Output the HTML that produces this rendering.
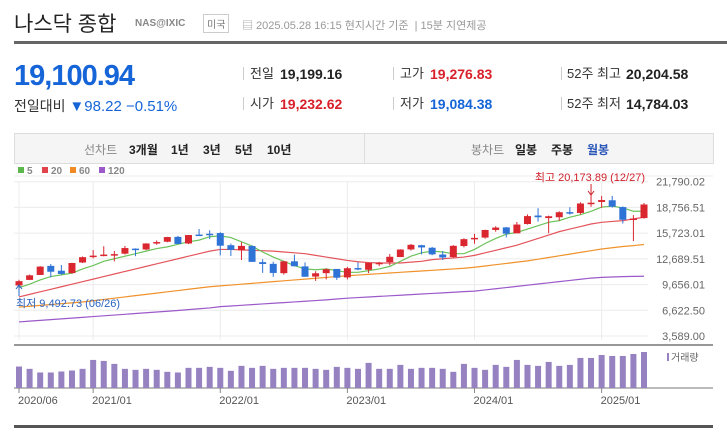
<!DOCTYPE html>
<html><head><meta charset="utf-8">
<style>
body{margin:0;width:727px;height:437px;background:#fff;font-family:"Liberation Sans","Noto Sans CJK KR",sans-serif;overflow:hidden;position:relative}
.a{position:absolute;white-space:nowrap}
.lbl{font-size:13px;color:#333;line-height:16px}
.val{font-size:14px;font-weight:bold;color:#222;line-height:16px}
.sep{position:absolute;width:1px;height:13px;background:#ccc}
.tab{font-size:12px;color:#222;font-weight:bold}
</style></head><body>
<div class="a" style="left:14px;top:8px;font-size:21px;color:#222">나스닥 종합</div>
<div class="a" style="left:135px;top:18px;font-size:10px;font-weight:bold;color:#888">NAS@IXIC</div>
<div class="a" style="left:203px;top:14px;font-size:10px;color:#777;border:1px solid #ccc;padding:1px 3px">미국</div>
<div class="a" style="left:242px;top:17px;font-size:11px;color:#999">▤ 2025.05.28 16:15 현지시간 기준 &nbsp;|&nbsp;15분 지연제공</div>
<div class="a" style="left:14px;top:41px;width:713px;height:3px;background:#666"></div>

<div class="a" style="left:14px;top:60px;font-size:29px;font-weight:bold;color:#1565d8;letter-spacing:-1px">19,100.94</div>
<div class="a" style="left:14px;top:96px;font-size:14px;color:#333">전일대비 <span style="color:#1565d8;font-size:15px">▼98.22 −0.51%</span></div>

<div class="sep" style="left:243px;top:67px"></div><div class="a lbl" style="left:250px;top:66px">전일</div><div class="a val" style="left:280px;top:66px">19,199.16</div>
<div class="sep" style="left:243px;top:97px"></div><div class="a lbl" style="left:250px;top:96px">시가</div><div class="a val" style="left:280px;top:96px;color:#d8202a">19,232.62</div>
<div class="sep" style="left:393px;top:67px"></div><div class="a lbl" style="left:400px;top:66px">고가</div><div class="a val" style="left:430px;top:66px;color:#d8202a">19,276.83</div>
<div class="sep" style="left:393px;top:97px"></div><div class="a lbl" style="left:400px;top:96px">저가</div><div class="a val" style="left:430px;top:96px;color:#1565d8">19,084.38</div>
<div class="sep" style="left:561px;top:67px"></div><div class="a lbl" style="left:567px;top:66px">52주 최고</div><div class="a val" style="left:626px;top:66px">20,204.58</div>
<div class="sep" style="left:561px;top:97px"></div><div class="a lbl" style="left:567px;top:96px">52주 최저</div><div class="a val" style="left:626px;top:96px">14,784.03</div>

<div class="a" style="left:14px;top:133px;width:698px;height:29px;background:#f5f5f5;border:1px solid #ddd"></div>
<div class="a" style="left:364px;top:134px;width:1px;height:29px;background:#ddd"></div>
<div class="a" style="left:84px;top:141px;font-size:12px;color:#888">선차트</div>
<div class="a tab" style="left:129px;top:141px">3개월</div>
<div class="a tab" style="left:171px;top:141px">1년</div>
<div class="a tab" style="left:203px;top:141px">3년</div>
<div class="a tab" style="left:235px;top:141px">5년</div>
<div class="a tab" style="left:267px;top:141px">10년</div>
<div class="a" style="left:471px;top:141px;font-size:12px;color:#888">봉차트</div>
<div class="a tab" style="left:515px;top:141px">일봉</div>
<div class="a tab" style="left:551px;top:141px">주봉</div>
<div class="a tab" style="left:587px;top:141px;color:#2a56b8">월봉</div>
<div class="a" style="left:14px;top:425px;width:699px;height:3px;background:#555"></div>

<svg id="chart" class="a" style="left:0;top:0" width="727" height="437"></svg>
<script>
const months=["2020/06","2020/07","2020/08","2020/09","2020/10","2020/11","2020/12","2021/01","2021/02","2021/03","2021/04","2021/05","2021/06","2021/07","2021/08","2021/09","2021/10","2021/11","2021/12","2022/01","2022/02","2022/03","2022/04","2022/05","2022/06","2022/07","2022/08","2022/09","2022/10","2022/11","2022/12","2023/01","2023/02","2023/03","2023/04","2023/05","2023/06","2023/07","2023/08","2023/09","2023/10","2023/11","2023/12","2024/01","2024/02","2024/03","2024/04","2024/05","2024/06","2024/07","2024/08","2024/09","2024/10","2024/11","2024/12","2025/01","2025/02","2025/03","2025/04","2025/05"];
const opens=[9552,10207,10789,11860,11290,11010,12259,12958,13091,13207,13299,13895,13792,14520,14707,15283,14500,15552,15650,15732,14300,13700,14200,12300,12100,11000,12400,11800,10600,11000,11500,10500,11600,11400,12200,12300,12900,13800,14300,14000,13200,12900,14200,15000,15200,16100,16400,15700,16800,17800,17500,17600,18200,18100,19300,19400,19600,18800,17300,17500];
const closes=[10058,10745,11775,11168,10911,12199,12888,13070,13192,13247,13962,13748,14504,14673,15259,14448,15498,15538,15645,14240,13751,14220,12335,12081,11028,12391,11816,10576,10988,11468,10466,11584,11456,12222,12226,12935,13788,14346,14035,13219,12851,14226,15011,15164,16091,16379,15658,16735,17733,17599,17714,18189,18095,19218,19310,19627,18847,17299,17446,19100];
const highs=[10221,10839,11829,12074,11965,12225,12973,13728,14175,13620,14211,13933,14536,14863,15288,15403,15505,16212,16057,15832,14489,14647,14288,12644,12346,12440,13182,12270,11231,11571,11474,11744,12269,12250,12336,13252,13828,14447,14351,14103,13598,14308,15111,15636,16134,16539,16452,17032,17936,18671,17786,18298,18785,19366,20205,20118,20110,18873,17845,19277];
const lows=[9403,10180,10779,10519,10822,10942,12196,12743,12985,12397,13191,13002,13714,14350,14650,14435,14432,15516,15020,13094,13021,12555,12333,11035,10565,10833,11808,10575,10089,10262,10207,10265,11345,11015,11828,11925,12999,13667,13215,13116,12544,12848,14045,14477,15061,15886,15222,15723,16735,17086,15708,17175,17899,17939,18831,18719,18726,16854,14784,17434];
const ma5=[9300,9700,10200,10600,10800,11000,11500,11900,12400,12700,13000,13300,13600,13900,14100,14400,14700,14900,15300,15400,15200,14700,14200,13500,12900,12400,11900,11500,11400,11500,11300,11100,11100,11300,11500,11800,12400,13000,13400,13600,13500,13300,13300,13800,14500,15100,15600,15800,16200,16600,17000,17200,17600,17900,18300,18800,18900,18700,18300,18300];
const ma20=[8200,8500,8800,9100,9400,9700,10000,10300,10600,10900,11200,11500,11800,12100,12400,12700,13000,13300,13600,13800,13800,13750,13700,13650,13600,13500,13400,13300,13100,12900,12700,12500,12350,12250,12200,12200,12200,12300,12400,12600,12700,12800,12900,13100,13400,13700,14000,14300,14700,15100,15500,15900,16200,16500,16800,17000,17100,17200,17400,17600];
const ma60=[7000,7100,7200,7300,7400,7500,7600,7750,7900,8050,8200,8350,8500,8650,8800,8950,9100,9250,9400,9500,9600,9700,9800,9900,10000,10100,10200,10300,10400,10500,10600,10700,10780,10860,10940,11020,11100,11180,11260,11340,11420,11500,11580,11700,11850,12000,12150,12300,12450,12650,12850,13050,13250,13450,13650,13850,14000,14150,14250,14380];
const ma120=[5250,5340,5430,5520,5610,5700,5790,5880,5970,6060,6150,6240,6330,6420,6510,6600,6700,6800,6900,7050,7130,7210,7290,7370,7450,7530,7610,7690,7770,7850,7950,8050,8120,8190,8260,8330,8400,8470,8540,8610,8680,8750,8820,8880,9020,9160,9300,9440,9580,9720,9860,10000,10140,10280,10420,10500,10550,10590,10620,10640];
const volumes=[65,58,47,47,50,53,58,85,82,73,58,55,58,55,49,47,61,61,64,61,52,67,61,67,58,61,61,61,58,55,64,61,58,76,58,58,70,58,61,61,58,49,73,61,55,70,64,85,70,67,79,67,70,91,91,100,97,97,103,109];
const yTicks=[21790.02,18756.51,15723.01,12689.51,9656.01,6622.50,3589.00];
const yTickLabels=["21,790.02","18,756.51","15,723.01","12,689.51","9,656.01","6,622.50","3,589.00"];
const xTickMonths=["2020/06","2021/01","2022/01","2023/01","2024/01","2025/01"];

const svg=document.getElementById('chart');
const NS="http://www.w3.org/2000/svg";
function mk(t,a,p){const e=document.createElementNS(NS,t);for(const k in a)e.setAttribute(k,a[k]);(p||svg).appendChild(e);return e;}
const X0=19,X1=644;
const x=i=>X0+i*(X1-X0)/(months.length-1);
const yMax=yTicks[0],yMin=yTicks[yTicks.length-1],yTop=181.7,yBot=336;
const y=v=>yTop+(yMax-v)/(yMax-yMin)*(yBot-yTop);
const vBase=388,vTop=352,vMax=Math.max(...volumes);
const vy=v=>vBase-v/vMax*(vBase-vTop);

mk('line',{x1:14,x2:713,y1:176,y2:176,stroke:'#eee'});
yTicks.forEach((t,i)=>{
  const g=mk('line',{x1:14,x2:648,y1:y(t),y2:y(t),stroke:'#ececec'});
  
  
  const tx=mk('text',{x:705,y:y(t)+4,'text-anchor':'end','font-size':11,fill:'#666','font-family':'Liberation Sans, sans-serif'});
  tx.textContent=yTickLabels[i];
  
  
});
xTickMonths.forEach(m=>{
  const i=months.indexOf(m);
  const g=mk('line',{x1:x(i),x2:x(i),y1:182,y2:340,stroke:'#ececec'});
  
  
  mk('line',{x1:x(i),x2:x(i),y1:388,y2:393,stroke:'#888'});
  const tx=mk('text',{x:x(i)-1,y:404,'font-size':11,fill:'#555','font-family':'Liberation Sans, sans-serif'});
  tx.textContent=m;
  
  
});
mk('line',{x1:14,x2:713,y1:345,y2:345,stroke:'#777','stroke-width':1.5});
mk('line',{x1:14,x2:713,y1:388,y2:388,stroke:'#777','stroke-width':1});

[[ma120,'#9b59c9','ma120-line'],[ma60,'#f0922b','ma60-line'],[ma20,'#e4545b','ma20-line'],[ma5,'#6cc25a','ma5-line']].forEach(([arr,c,n])=>{
  const p=mk('polyline',{points:arr.map((v,i)=>x(i)+','+y(v)).join(' '),fill:'none',stroke:c,'stroke-width':1.2});
  
  
});

months.forEach((m,i)=>{
  const up=closes[i]>=opens[i];
  const c=up?'#d9262f':'#2f73d6';
  const g=mk('g',{});
  
  
  mk('line',{x1:x(i),x2:x(i),y1:y(highs[i]),y2:y(lows[i]),stroke:c,'stroke-width':1},g);
  const t=y(Math.max(opens[i],closes[i])),b=y(Math.min(opens[i],closes[i]));
  mk('rect',{x:x(i)-3.5,y:t,width:7,height:Math.max(1.5,b-t),fill:c},g);
  const vb=mk('rect',{x:x(i)-3,y:vy(volumes[i]),width:6,height:vBase-vy(volumes[i]),fill:'#9681c1'});
  
  
});

const hi=mk('text',{x:645,y:181,'text-anchor':'end','font-size':11,fill:'#d0202a','font-family':'Liberation Sans, Noto Sans CJK KR, sans-serif'});
hi.textContent='최고 20,173.89 (12/27)';


mk('path',{d:'M'+x(54)+' 184 V194 M'+(x(54)-3)+' 191 L'+x(54)+' 195 L'+(x(54)+3)+' 191',stroke:'#d0202a',fill:'none'});
const lo=mk('text',{x:16,y:307,'font-size':11,fill:'#2a62c0','font-family':'Liberation Sans, Noto Sans CJK KR, sans-serif'});
lo.textContent='최저 9,492.73 (06/26)';


mk('path',{d:'M'+x(0)+' 296 V286 M'+(x(0)-3)+' 289 L'+x(0)+' 285 L'+(x(0)+3)+' 289',stroke:'#2a62c0',fill:'none'});

[['5','#5cb84a',18],['20','#e0434b',42],['60','#f08a24',70],['120','#9b59c9',99]].forEach(([t,c,lx])=>{
  const g=mk('g',{});
  
  
  mk('rect',{x:lx,y:167,width:6,height:6,fill:c},g);
  const tx=mk('text',{x:lx+9,y:174,'font-size':10,'font-weight':'bold',fill:'#888','font-family':'Liberation Sans, sans-serif'},g);
  tx.textContent=t;
});
mk('rect',{x:667,y:353,width:2,height:8,fill:'#9681c1'});
const vl=mk('text',{x:671,y:361,'font-size':10,fill:'#666','font-family':'Liberation Sans, Noto Sans CJK KR, sans-serif'});
vl.textContent='거래량';


</script>
</body></html>
